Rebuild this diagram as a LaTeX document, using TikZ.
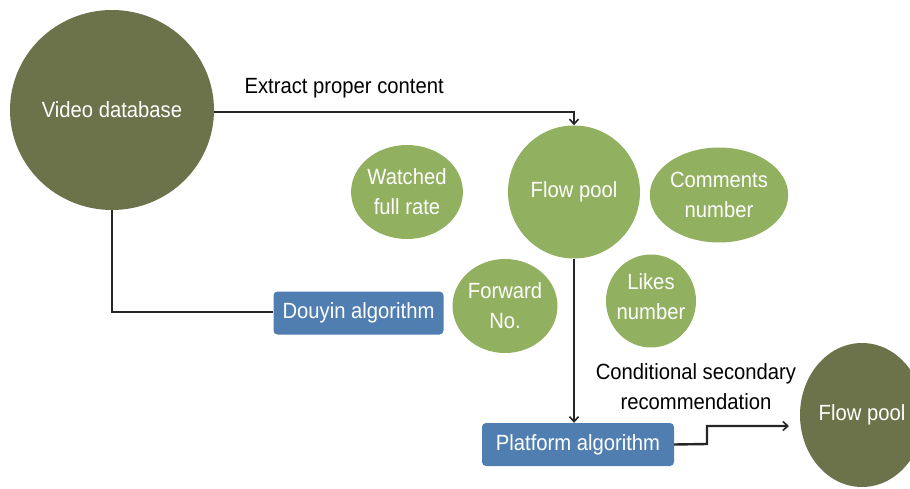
\documentclass[tikz,border=0pt]{standalone}
\usepackage{fontspec}
\setmainfont[FakeStretch=0.92]{Liberation Sans}
\usetikzlibrary{shapes.geometric,arrows.meta}
\definecolor{darkolive}{RGB}{108,115,74}
\definecolor{lightgreen}{RGB}{145,176,96}
\definecolor{boxblue}{RGB}{80,126,176}
\tikzset{
  txt/.style={font=\fontsize{22}{30}\selectfont, align=center},
  darkcirc/.style={ellipse, fill=darkolive, draw=none, text=white, inner sep=0pt, txt},
  lightcirc/.style={ellipse, fill=lightgreen, draw=none, text=white, inner sep=0pt, txt},
  algobox/.style={rectangle, rounded corners=4pt, fill=boxblue, draw=none, text=white, inner sep=0pt, txt},
  conn/.style={draw=black!85, line width=2.4pt},
  arr/.style={conn, -{Straight Barb[length=5pt,width=9pt,line width=1.6pt]}},
  lbl/.style={txt, text=black}
}
\begin{document}
\begin{tikzpicture}[x=1pt,y=-1pt]
\useasboundingbox (0,0) rectangle (910,489);
\begin{scope}
\clip (0,0) rectangle (910,489);
\node[darkcirc, minimum width=204pt, minimum height=200pt] (vdb) at (112,110) {Video database};
\node[lightcirc, minimum width=132pt, minimum height=133pt] (fp) at (574,192) {Flow pool};
\node[lightcirc, minimum width=105pt, minimum height=94pt] (wfr) at (407,192) {Watched\\full rate};
\node[lightcirc, minimum width=124pt, minimum height=95pt] (cn) at (719,195) {Comments\\number};
\node[lightcirc, minimum width=96pt, minimum height=94pt] (fw) at (505,306) {Forward\\No.};
\node[lightcirc, minimum width=90pt, minimum height=93pt] (ln) at (651,301) {};
\node[txt, text=white, inner sep=0pt] (lntxt) at (651,297) {Likes\\number};
\node[algobox, minimum width=170pt, minimum height=43pt] (douyin) at (358.5,313) {Douyin algorithm};
\node[algobox, minimum width=192pt, minimum height=43pt] (plat) at (578,444.5) {Platform algorithm};
\node[darkcirc, minimum width=124pt, minimum height=144pt] (fp2) at (862,415) {Flow pool};
\end{scope}
\node[lbl, anchor=west] (extract) at (241,88) {Extract proper content};
\node[lbl] (cond) at (696,387) {Conditional secondary\\recommendation};
\coordinate (c1) at (574,112);
\coordinate (c2) at (112,312);
\coordinate (c3) at (707,444);
\coordinate (c4) at (707,426);
\coordinate (c5) at (789,426);
\draw[arr] (vdb.east |- 0,112) -- (c1) -- (fp.north);
\draw[conn] (vdb.south) -- (c2) -- (douyin.west |- c2);
\draw[arr] (fp.south) -- (plat.north -| fp.south);
\draw[arr] (plat.east) -- (c3) -- (c4) -- (c5);
\end{tikzpicture}
\end{document}
